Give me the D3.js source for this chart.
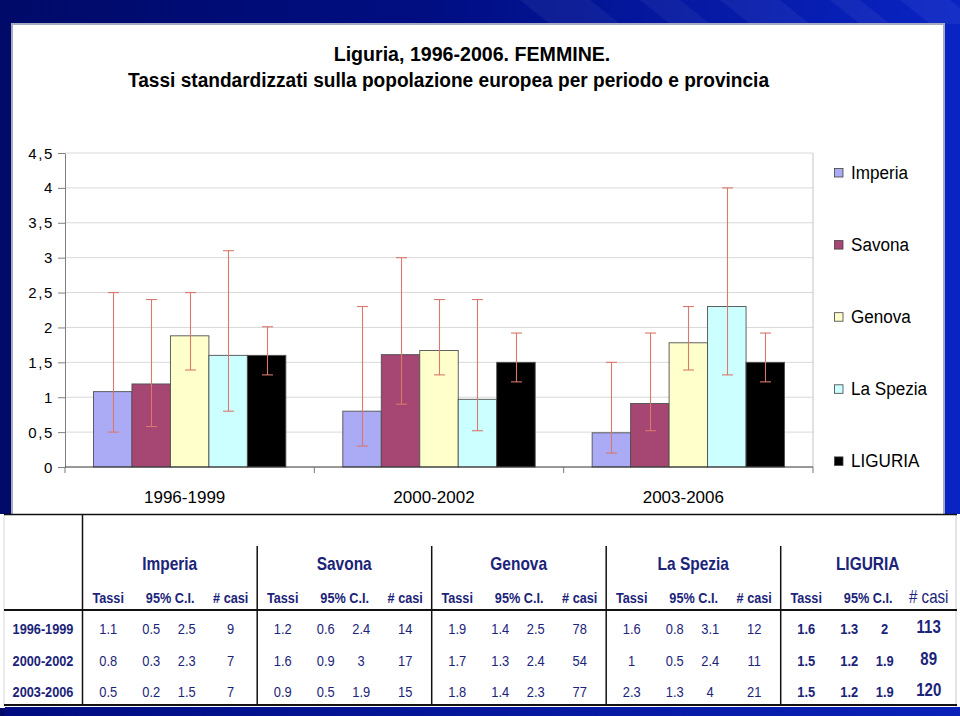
<!DOCTYPE html>
<html><head><meta charset="utf-8">
<script src="https://cdn.jsdelivr.net/npm/d3@7"></script>
<style>body{margin:0;background:#fff}svg{display:block}text{font-family:"Liberation Sans",Arial,sans-serif}</style>
</head><body><svg id="c" width="960" height="716"></svg>
<script>
// ---------- DATA ----------
const periods = ["1996-1999", "2000-2002", "2003-2006"];
const provinces = ["Imperia", "Savona", "Genova", "La Spezia", "LIGURIA"];
const colors = ["#aaaaf5", "#a54673", "#ffffcc", "#ccffff", "#000000"];
// bar heights (rates), per province, per period
const rateImperia = [1.08, 0.80, 0.49];
const rateSavona = [1.19, 1.61, 0.91];
const rateGenova = [1.88, 1.67, 1.78];
const rateLaSpezia = [1.60, 0.97, 2.30];
const rateLiguria = [1.60, 1.50, 1.50];
// 95% confidence limits (error bars)
const ciLowImperia = [0.5, 0.3, 0.2], ciHighImperia = [2.5, 2.3, 1.5];
const ciLowSavona = [0.58, 0.9, 0.52], ciHighSavona = [2.4, 3.0, 1.92];
const ciLowGenova = [1.39, 1.32, 1.39], ciHighGenova = [2.5, 2.4, 2.3];
const ciLowLaSpezia = [0.8, 0.52, 1.32], ciHighLaSpezia = [3.1, 2.4, 4.0];
const ciLowLiguria = [1.32, 1.22, 1.22], ciHighLiguria = [2.01, 1.92, 1.92];
const yTicks = [0, 0.5, 1, 1.5, 2, 2.5, 3, 3.5, 4, 4.5];
// table strings
const tabTassi = [["1.1","0.8","0.5"],["1.2","1.6","0.9"],["1.9","1.7","1.8"],["1.6","1","2.3"],["1.6","1.5","1.5"]];
const tabCiLow = [["0.5","0.3","0.2"],["0.6","0.9","0.5"],["1.4","1.3","1.4"],["0.8","0.5","1.3"],["1.3","1.2","1.2"]];
const tabCiHigh = [["2.5","2.3","1.5"],["2.4","3","1.9"],["2.5","2.4","2.3"],["3.1","2.4","4"],["2","1.9","1.9"]];
const tabCasi = [["9","7","7"],["14","17","15"],["78","54","77"],["12","11","21"],["113","89","120"]];
const subHeads = ["Tassi", "95% C.I.", "# casi"];
const title1 = "Liguria, 1996-2006. FEMMINE.";
const title2 = "Tassi standardizzati sulla popolazione europea per periodo e provincia";

const rates = [rateImperia, rateSavona, rateGenova, rateLaSpezia, rateLiguria];
const ciLow = [ciLowImperia, ciLowSavona, ciLowGenova, ciLowLaSpezia, ciLowLiguria];
const ciHigh = [ciHighImperia, ciHighSavona, ciHighGenova, ciHighLaSpezia, ciHighLiguria];

// ---------- SETUP ----------
const svg = d3.select("#c");
const defs = svg.append("defs");
function grad(id, stops) {
  const g = defs.append("linearGradient").attr("id", id).attr("x1", 0).attr("x2", 1).attr("y1", 0).attr("y2", 0);
  stops.forEach(s => g.append("stop").attr("offset", s[0]).attr("stop-color", s[1]));
}
grad("bg", [[0, "#000a68"], [0.45, "#000e82"], [1, "#0a24c4"]]);
grad("bg2", [[0, "#000c80"], [1, "#0a22b8"]]);

svg.append("rect").attr("width", 960).attr("height", 716).attr("fill", "url(#bg)");
// light streaks in header band
const streaks = [[520, 70], [640, 40], [720, 60], [830, 30], [900, 50]];
streaks.forEach(s => {
  svg.append("path").attr("d", `M${s[0]},0 L${s[0] + s[1]},0 L${s[0] + s[1] + 30},24 L${s[0] + 30},24 Z`)
    .attr("fill", "#ffffff").attr("opacity", 0.05);
});
// chart panel
svg.append("rect").attr("x", 12).attr("y", 24).attr("width", 932).attr("height", 491)
  .attr("fill", "#ffffff").attr("stroke", "#a6abc2").attr("stroke-width", 2);
// table panel
svg.append("rect").attr("x", 0).attr("y", 514).attr("width", 960).attr("height", 194).attr("fill", "#ffffff");
svg.append("line").attr("x1", 4).attr("x2", 4).attr("y1", 514).attr("y2", 707).attr("stroke", "#d8d8e0");
svg.append("line").attr("x1", 956).attr("x2", 956).attr("y1", 514).attr("y2", 707).attr("stroke", "#c8c8d0");
svg.append("rect").attr("x", 5).attr("y", 707).attr("width", 955).attr("height", 9).attr("fill", "url(#bg2)");

function txt(parent, x, y, s, o) {
  o = Object.assign({ size: 15, weight: "normal", anchor: "middle", sx: 1, fill: "#000" }, o || {});
  return parent.append("text").attr("transform", `translate(${x},${y}) scale(${o.sx},1)`)
    .attr("text-anchor", o.anchor).attr("font-size", o.size).attr("font-weight", o.weight)
    .attr("fill", o.fill).text(s);
}

// ---------- TITLE ----------
txt(svg, 472, 61, title1, { size: 20, weight: "bold", sx: 0.98 });
svg.append("text").attr("x", 128).attr("y", 87).attr("font-size", 20).attr("font-weight", "bold")
  .attr("textLength", 641).attr("lengthAdjust", "spacingAndGlyphs").text(title2);

// ---------- CHART ----------
const x0 = d3.scaleBand().domain(periods).range([65, 813]);
const x1 = d3.scaleBand().domain(provinces).range([0, x0.bandwidth()]).paddingOuter(0.74);
const y = d3.scaleLinear().domain([0, 4.5]).range([467, 153]);
const loc = d3.formatLocale({ decimal: ",", thousands: ".", grouping: [3], currency: ["", "€"] });
const fmt = v => loc.format("~g")(v);

const chart = svg.append("g");
// gridlines
chart.selectAll("line.grid").data(yTicks.filter(v => v > 0)).join("line")
  .attr("x1", 65).attr("x2", 813).attr("y1", d => y(d)).attr("y2", d => y(d))
  .attr("stroke", "#d9d9d9").attr("stroke-width", 1);
chart.append("line").attr("x1", 813).attr("x2", 813).attr("y1", y(4.5)).attr("y2", y(0)).attr("stroke", "#c4c4c4");

// y axis
const yAxis = chart.append("g").attr("transform", "translate(65,0)")
  .call(d3.axisLeft(y).tickValues(yTicks).tickSize(7).tickSizeOuter(0).tickFormat(fmt));
yAxis.select(".domain").attr("stroke", "#808080");
yAxis.selectAll(".tick line").attr("stroke", "#808080");
yAxis.selectAll(".tick text").attr("font-size", 15).attr("fill", "#000").attr("x", -11)
  .attr("font-family", "'Liberation Sans',Arial,sans-serif").attr("letter-spacing", 1.6).attr("dy", "0.34em");

// bars
const bars = chart.append("g");
periods.forEach((p, j) => {
  provinces.forEach((pr, i) => {
    bars.append("rect").attr("x", x0(p) + x1(pr)).attr("width", x1.bandwidth())
      .attr("y", y(rates[i][j])).attr("height", y(0) - y(rates[i][j]))
      .attr("fill", colors[i]).attr("stroke", "#505050").attr("stroke-width", 0.9);
  });
});
// error bars
const err = chart.append("g").attr("stroke", "#d9786b").attr("stroke-width", 1.1);
periods.forEach((p, j) => {
  provinces.forEach((pr, i) => {
    const cx = Math.round(x0(p) + x1(pr) + x1.bandwidth() / 2) + 0.5;
    const lo = y(ciLow[i][j]), hi = y(ciHigh[i][j]);
    err.append("line").attr("x1", cx).attr("x2", cx).attr("y1", lo).attr("y2", hi);
    err.append("line").attr("x1", cx - 5.5).attr("x2", cx + 5.5).attr("y1", lo).attr("y2", lo);
    err.append("line").attr("x1", cx - 5.5).attr("x2", cx + 5.5).attr("y1", hi).attr("y2", hi);
  });
});
// x axis
chart.append("line").attr("x1", 65).attr("x2", 813).attr("y1", y(0)).attr("y2", y(0)).attr("stroke", "#333").attr("stroke-width", 1.2);
const edges = periods.map(p => x0(p)).concat([x0.range()[1]]);
chart.selectAll("line.xt").data(edges).join("line")
  .attr("x1", d => d).attr("x2", d => d).attr("y1", y(0)).attr("y2", y(0) + 6).attr("stroke", "#777");
periods.forEach(p => txt(chart, x0(p) + x0.bandwidth() / 2 - 5, 503, p, { size: 17 }));

// legend
provinces.forEach((pr, i) => {
  const by = 179 + i * 72.1;
  svg.append("rect").attr("x", 834.5).attr("y", by - 10.5).attr("width", 8.5).attr("height", 8.5)
    .attr("fill", colors[i]).attr("stroke", "#404040").attr("stroke-width", 0.8);
  txt(svg, 851, by, pr, { size: 19, anchor: "start", sx: 0.9 });
});

// ---------- TABLE ----------
const navy = "#1b2479";
const tb = svg.append("g");
tb.append("line").attr("x1", 4).attr("x2", 957).attr("y1", 514.5).attr("y2", 514.5).attr("stroke", "#111").attr("stroke-width", 1.5);
tb.append("line").attr("x1", 4).attr("x2", 957).attr("y1", 610).attr("y2", 610).attr("stroke", "#111").attr("stroke-width", 2);
tb.append("line").attr("x1", 4).attr("x2", 957).attr("y1", 705).attr("y2", 705).attr("stroke", "#111").attr("stroke-width", 2);
tb.append("line").attr("x1", 82.5).attr("x2", 82.5).attr("y1", 514).attr("y2", 705).attr("stroke", "#111").attr("stroke-width", 1.5);
const gx = d3.scaleBand().domain(provinces).range([82.7, 955.2]);
provinces.slice(1).forEach(pr => {
  tb.append("line").attr("x1", gx(pr)).attr("x2", gx(pr)).attr("y1", 546).attr("y2", 705).attr("stroke", "#111").attr("stroke-width", 1.5);
});
const rowY = d3.scalePoint().domain(periods).range([634, 697]);
const colOff = { tassi: 25.5, lo: 68.5, hi: 104, casi: 148, head: 87, ci: 87.5 };

provinces.forEach((pr, i) => {
  const gx0 = gx(pr);
  const isLig = i === 4;
  txt(tb, gx0 + colOff.head, 570, pr, { size: 18, weight: "bold", sx: 0.86, fill: navy });
  txt(tb, gx0 + colOff.tassi, 602.5, subHeads[0], { size: 15.5, weight: "bold", sx: 0.82, fill: navy });
  txt(tb, gx0 + colOff.ci, 602.5, subHeads[1], { size: 15.5, weight: "bold", sx: 0.82, fill: navy });
  txt(tb, gx0 + colOff.casi, 602.5, subHeads[2], isLig ? { size: 18, sx: 0.84, fill: navy } : { size: 15.5, weight: "bold", sx: 0.82, fill: navy });
  periods.forEach((p, j) => {
    const yy = rowY(p);
    const o = { size: 15, weight: isLig ? "bold" : "normal", sx: 0.86, fill: navy };
    txt(tb, gx0 + colOff.tassi, yy, tabTassi[i][j], o);
    txt(tb, gx0 + colOff.lo, yy, tabCiLow[i][j], o);
    txt(tb, gx0 + colOff.hi, yy, tabCiHigh[i][j], o);
    txt(tb, gx0 + colOff.casi, yy + (isLig ? -1 : 0), tabCasi[i][j], isLig ? { size: 17.5, weight: "bold", sx: 0.86, fill: navy } : o);
  });
});
periods.forEach(p => txt(tb, 43, rowY(p), p, { size: 15, weight: "bold", sx: 0.85, fill: navy }));
</script></body></html>
